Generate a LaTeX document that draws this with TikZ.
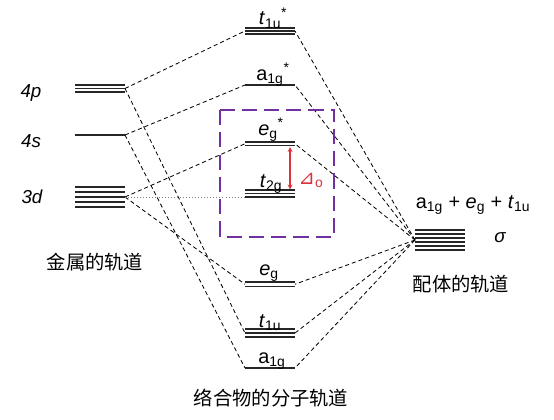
\documentclass[tikz,border=0pt]{standalone}
\usepackage{fontspec}
\setmainfont{Liberation Sans}
\newfontfamily\cjk{Noto Sans CJK SC}
\newfontfamily\symfont{DejaVu Sans}
\definecolor{boxpurple}{RGB}{112,48,160}
\definecolor{deltared}{RGB}{220,50,60}
% one energy level: name, left x, top y, number of lines, line gap
\newcommand\level[5]{%
  \foreach \k in {1,...,#4}
    \draw[lvl] (#2,{#3+(\k-1)*#5}) -- ++(50,0);
  \coordinate (#1-l) at (#2,{#3+(#4-1)*#5/2});
  \coordinate (#1-r) at ({#2+50},{#3+(#4-1)*#5/2});
}
\begin{document}
\begin{tikzpicture}[x=0.03cm,y=-0.03cm,
  lvl/.style={line width=1.2pt,color=black!85},
  link/.style={line width=0.7pt,dash pattern=on 3.5pt off 2.5pt},
  lab/.style={anchor=base,font=\fontsize{17}{19}\selectfont},
  orb/.style={anchor=base,font=\fontsize{16}{18}\selectfont\itshape},
  cn/.style={font=\cjk\fontsize{16.5}{18}\selectfont}]
		\useasboundingbox (0,0) rectangle (554,420);
		%metal
		\level{p4}{75}{85}{3}{3.5}
		\level{s4}{75}{135}{1}{0}
		\level{d3}{75}{187}{5}{5}
		%complex
		\level{t1uS}{245}{28}{3}{3}
		\level{a1gS}{245}{85}{1}{0}
		\level{egS}{245}{142}{2}{3.5}
		\level{t2g}{245}{190}{3}{3.5}
		\level{eg}{245}{282}{2}{4.5}
		\level{t1u}{245}{329}{3}{4}
		\level{a1g}{245}{368}{1}{0}
		%ligand
		\level{lig}{415}{230}{6}{4}
		%links
		\draw[link] (p4-r) -- (t1uS-l);
		\draw[link] (p4-r) -- (t1u-l);
		\draw[link] (s4-r) -- (a1gS-l);
		\draw[link] (s4-r) -- (a1g-l);
		\draw[link] (d3-r) -- (egS-l);
		\draw[link] (d3-r) -- (eg-l);
		\draw[line width=0.6pt,color=gray,dotted] (d3-r) -- (d3-r -| t2g-l);
		\foreach \m in {t1uS,a1gS,egS,eg,t1u,a1g}
			\draw[link] (lig-l) -- (\m-r);
		%splitting box
		\draw[line width=2.4pt,color=boxpurple,dash pattern=on 13pt off 6pt] (220,110) rectangle (334,237);
		\coordinate (gaptop) at (290,147);
		\coordinate (gapbot) at (290,189.5);
		\draw[line width=0.9pt,color=deltared,<->,>=stealth] (gaptop) -- (gapbot);
		\node[anchor=base,text=deltared,font=\fontsize{17}{19}\selectfont](delta) at (311,184) {{\symfont ⊿}\textsubscript{o}};
		%labels
		\node[orb](p4lab) at (31,97) {4p};
		\node[orb](s4lab) at (31,147) {4s};
		\node[orb](d3lab) at (32,203) {3d};
		\node[lab](t1uSlab) at (273,25) {\textit{t}\textsubscript{1u}\textsuperscript{*}};
		\node[lab](a1gSlab) at (273,80) {a\textsubscript{1g}\textsuperscript{*}};
		\node[lab](egSlab) at (271,135) {\textit{e}\textsubscript{g}\textsuperscript{*}};
		\node[lab](t2glab) at (271,187) {\textit{t}\textsubscript{2g}};
		\node[lab](eglab) at (269,275) {\textit{e}\textsubscript{g}};
		\node[lab](t1ulab) at (270,327) {\textit{t}\textsubscript{1u}};
		\node[lab](a1glab) at (272,363) {a\textsubscript{1g}};
		\node[lab](liglab) at (473,208) {a\textsubscript{1g} + \textit{e}\textsubscript{g} + \textit{t}\textsubscript{1u}};
		\node[orb](sigma) at (500,242) {σ};
		\node[cn](metal) at (95,262) {金属的轨道};
		\node[cn](ligand) at (461,284) {配体的轨道};
		\node[cn](complex) at (271,398) {络合物的分子轨道};
\end{tikzpicture}
\end{document}
